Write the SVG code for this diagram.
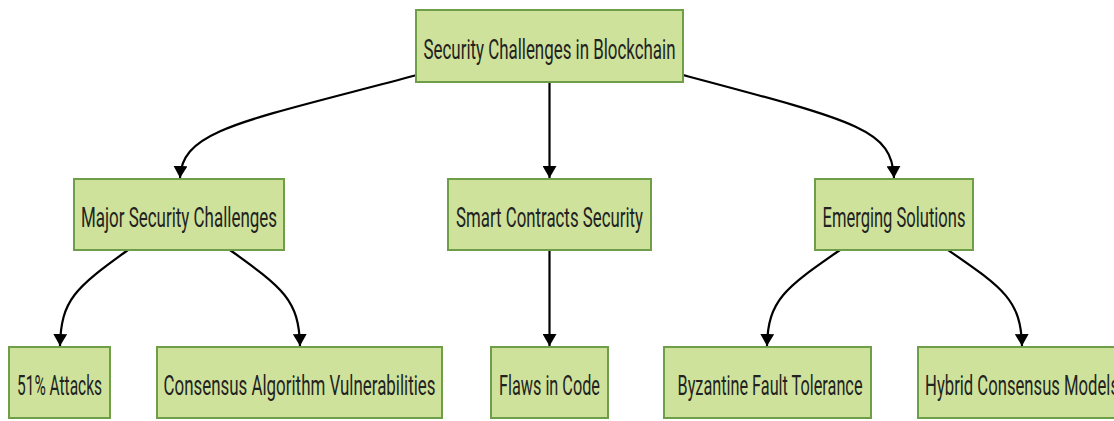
<svg xmlns="http://www.w3.org/2000/svg" width="1114" height="421" viewBox="0 0 1114 421">
  <style>
    .box { fill: #cfe29b; stroke: #6f9e48; stroke-width: 2; }
    .lbl { font-family: Roboto, "Liberation Sans", sans-serif; font-size: 28px; fill: #222; text-anchor: middle; }
    .edge { fill: none; stroke: #000; stroke-width: 2.2; }
  </style>
  <defs>
    <marker id="arrow" viewBox="0 0 12 14" refX="12" refY="7" markerWidth="12" markerHeight="14" markerUnits="userSpaceOnUse" orient="auto">
      <path d="M0,0 L12,7 L0,14 Z" fill="#000"/>
    </marker>
  </defs>
  <rect width="1114" height="421" fill="#fff"/>

  <g id="connectors">
    <path class="edge" d="M417,75 C240,122 182,130 180,178" marker-end="url(#arrow)"/>
    <path class="edge" d="M549.5,82 L549.5,178" marker-end="url(#arrow)"/>
    <path class="edge" d="M683,75 C860,122 892,130 894,178" marker-end="url(#arrow)"/>
    <path class="edge" d="M128,250 C75,288 61,300 60,346" marker-end="url(#arrow)"/>
    <path class="edge" d="M230,250 C283,288 299,300 300,346" marker-end="url(#arrow)"/>
    <path class="edge" d="M549.5,250 L549.5,346" marker-end="url(#arrow)"/>
    <path class="edge" d="M840,250 C785,288 768,300 767,346" marker-end="url(#arrow)"/>
    <path class="edge" d="M948,250 C1003,288 1021,300 1022,346" marker-end="url(#arrow)"/>
  </g>

  <g id="root">
    <rect class="box" x="416" y="10" width="267" height="72"/>
    <text class="lbl" x="549.5" y="58.5" textLength="252" lengthAdjust="spacingAndGlyphs">Security Challenges in Blockchain</text>
  </g>
  <g id="major">
    <rect class="box" x="74" y="179" width="210" height="71"/>
    <text class="lbl" x="179" y="226.5" textLength="196" lengthAdjust="spacingAndGlyphs">Major Security Challenges</text>
  </g>
  <g id="smart">
    <rect class="box" x="448" y="179" width="203" height="71"/>
    <text class="lbl" x="549.5" y="226.5" textLength="187" lengthAdjust="spacingAndGlyphs">Smart Contracts Security</text>
  </g>
  <g id="emerging">
    <rect class="box" x="815" y="179" width="158" height="71"/>
    <text class="lbl" x="894" y="226.5" textLength="143" lengthAdjust="spacingAndGlyphs">Emerging Solutions</text>
  </g>
  <g id="attacks51">
    <rect class="box" x="9" y="347" width="101" height="71"/>
    <text class="lbl" x="59.5" y="394.5" textLength="85" lengthAdjust="spacingAndGlyphs">51% Attacks</text>
  </g>
  <g id="consensus">
    <rect class="box" x="157" y="347" width="285" height="71"/>
    <text class="lbl" x="299.5" y="394.5" textLength="272" lengthAdjust="spacingAndGlyphs">Consensus Algorithm Vulnerabilities</text>
  </g>
  <g id="flaws">
    <rect class="box" x="491" y="347" width="117" height="71"/>
    <text class="lbl" x="549.5" y="394.5" textLength="101" lengthAdjust="spacingAndGlyphs">Flaws in Code</text>
  </g>
  <g id="byzantine">
    <rect class="box" x="664" y="347" width="207" height="71"/>
    <text class="lbl" x="770" y="394.5" textLength="185" lengthAdjust="spacingAndGlyphs">Byzantine Fault Tolerance</text>
  </g>
  <g id="hybrid">
    <rect class="box" x="918" y="347" width="208" height="71"/>
    <text class="lbl" x="1022" y="394.5" textLength="194" lengthAdjust="spacingAndGlyphs">Hybrid Consensus Models</text>
  </g>
</svg>
